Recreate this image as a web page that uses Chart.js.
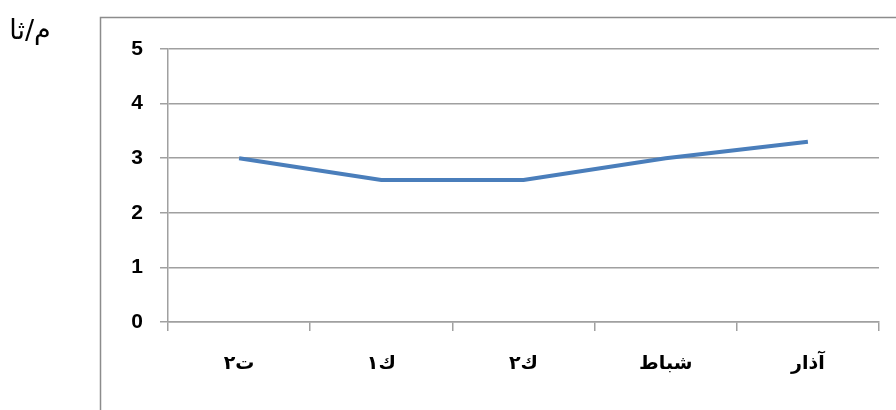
<!DOCTYPE html>
<html>
<head>
<meta charset="utf-8">
<script src="https://cdn.jsdelivr.net/npm/chart.js@4/dist/chart.umd.min.js"></script>
<style>
  html, body { margin: 0; padding: 0; background: #ffffff; }
  #wrap { width: 896px; height: 410px; position: relative; }
</style>
</head>
<body>
<div id="wrap"><canvas id="c" width="896" height="410"></canvas></div>
<script>
// Monthly speed readings (م/ثا)
const months = ['ت٢', 'ك١', 'ك٢', 'شباط', 'آذار'];
const speeds = [3.0, 2.6, 2.6, 3.0, 3.3];
const yTicks = [0, 1, 2, 3, 4, 5];

const gridGrey = '#a0a0a0';

// Outer frame and unit label
const framePlugin = {
  id: 'frame',
  beforeDraw(chart) {
    const ctx = chart.ctx;
    ctx.save();
    ctx.fillStyle = '#ffffff';
    ctx.fillRect(0, 0, chart.width, chart.height);
    ctx.strokeStyle = '#8c8c8c';
    ctx.lineWidth = 1.5;
    ctx.strokeRect(100.5, 17.5, 900, 500);
    ctx.fillStyle = '#000000';
    ctx.font = '27px "DejaVu Sans", "Noto Sans", sans-serif';
    ctx.textAlign = 'center';
    ctx.textBaseline = 'middle';
    ctx.fillText('م/ثا', 30, 32);
    ctx.restore();
  }
};

new Chart(document.getElementById('c'), {
  type: 'line',
  data: {
    labels: months,
    datasets: [{
      data: speeds,
      borderColor: '#4a7ebb',
      borderWidth: 4,
      pointRadius: 0,
      tension: 0,
      fill: false
    }]
  },
  options: {
    responsive: false,
    animation: false,
    layout: { padding: { left: 0, right: 17, top: 49, bottom: 0 } },
    plugins: { legend: { display: false }, tooltip: { enabled: false } },
    scales: {
      x: {
        offset: true,
        grid: {
          offset: true,
          drawOnChartArea: false,
          drawTicks: true,
          tickLength: 9,
          color: gridGrey,
          lineWidth: 1.5
        },
        border: { color: gridGrey, width: 1.5 },
        ticks: {
          color: '#000000',
          padding: 22,
          maxRotation: 0,
          font: { family: '"DejaVu Sans", "Liberation Sans", sans-serif', size: 19, weight: 'bold' }
        },
        afterFit(scale) { scale.height = 88; }
      },
      y: {
        min: 0,
        max: 5,
        afterBuildTicks(scale) { scale.ticks = yTicks.map(v => ({ value: v })); },
        grid: {
          color: gridGrey,
          lineWidth: 1.5,
          tickLength: 8
        },
        border: { color: gridGrey, width: 1.5 },
        ticks: {
          color: '#000000',
          padding: 17,
          font: { family: '"Liberation Sans", Arial, sans-serif', size: 21, weight: 'bold' }
        },
        afterFit(scale) { scale.width = 168; }
      }
    }
  },
  plugins: [framePlugin]
});
</script>
</body>
</html>
